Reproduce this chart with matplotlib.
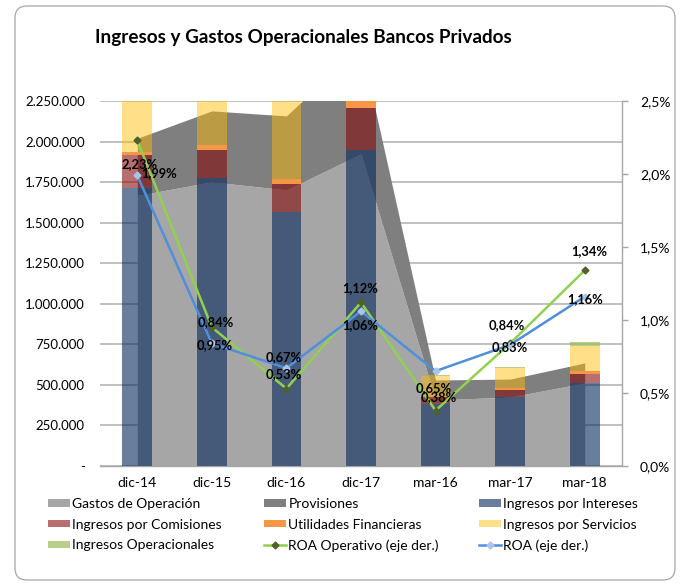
import matplotlib
matplotlib.use('Agg')
import matplotlib.pyplot as plt
import numpy as np
from matplotlib.patches import FancyBboxPatch
from matplotlib.ticker import FuncFormatter

plt.rcParams['font.family'] = ['Lato', 'DejaVu Sans']

# ---------------- data ----------------
categories = ['dic-14', 'dic-15', 'dic-16', 'dic-17', 'mar-16', 'mar-17', 'mar-18']
gastos_operacion = [1668000, 1752000, 1702000, 1924000, 407000, 425000, 512000]
provisiones = [352000, 437000, 456000, 666000, 123000, 111000, 123000]
ingresos_intereses = [1712000, 1776000, 1566000, 1948000, 385000, 425000, 512000]
ingresos_comisiones = [205000, 172000, 173000, 259000, 40000, 44000, 55000]
utilidades_financieras = [19000, 31000, 30000, 60000, 7000, 12000, 19000]
ingresos_servicios = [480000, 450000, 520000, 420000, 123000, 123000, 154000]
ingresos_operacionales = [30000, 30000, 30000, 30000, 8000, 8000, 25000]
roa_operativo = [2.23, 0.95, 0.53, 1.12, 0.38, 0.84, 1.34]
roa = [1.99, 0.84, 0.67, 1.06, 0.65, 0.83, 1.16]

left_ticks = list(range(0, 2250001, 250000))
right_ticks = [0.0, 0.5, 1.0, 1.5, 2.0, 2.5]

title = 'Ingresos y Gastos Operacionales Bancos Privados'

# ---------------- figure ----------------
W, H = 680, 585
fig = plt.figure(figsize=(W / 100, H / 100), dpi=100)

# rounded border of chart area
border = FancyBboxPatch((0.15, 0.05), 6.60, 5.74,
                        boxstyle='round,pad=0,rounding_size=0.12',
                        transform=fig.dpi_scale_trans, fill=False,
                        ec='#a6a6a6', lw=0.9)
fig.patches.append(border)

ax = fig.add_axes([100 / W, 1 - 466 / H, 522 / W, 365 / H])
x = np.arange(len(categories))

# areas
g = np.array(gastos_operacion, dtype=float)
p = np.array(provisiones, dtype=float)
ax.fill_between(x, 0, g, color='#a6a6a6', lw=0, zorder=2, label='Gastos de Operación')
ax.fill_between(x, g, g + p, color='#7f7f7f', lw=0, zorder=2, label='Provisiones')

# stacked semi-transparent bars
bar_series = [
    (ingresos_intereses, '#05285a', 0.60, 'Ingresos por Intereses'),
    (ingresos_comisiones, '#820202', 0.57, 'Ingresos por Comisiones'),
    (utilidades_financieras, '#f79646', 1.0, 'Utilidades Financieras'),
    (ingresos_servicios, '#ffbb00', 0.47, 'Ingresos por Servicios'),
    (ingresos_operacionales, '#9bbb59', 0.70, 'Ingresos Operacionales'),
]
bottom = np.zeros(len(categories))
for vals, col, a, lab in bar_series:
    ax.bar(x, vals, 0.40, bottom=bottom, color=col, alpha=a, lw=0,
           zorder=3, label=lab)
    bottom = bottom + np.array(vals, dtype=float)

ax.set_xlim(-0.5, 6.5)
ax.set_ylim(0, 2250000)
ax.set_yticks(left_ticks)
ax.yaxis.set_major_formatter(FuncFormatter(
    lambda v, pos: '-' if v == 0 else f'{int(v):,}'.replace(',', '.')))
ax.set_xticks(x)
ax.set_xticklabels(categories)
ax.tick_params(axis='y', length=0, pad=11, labelsize=9.5, labelcolor='black')
ax.tick_params(axis='x', length=0, pad=8, labelsize=10, labelcolor='black')
ax.yaxis.grid(True, color='#b5b5b5', lw=1.2)
ax.set_axisbelow(True)
for s in ['top', 'left', 'right']:
    ax.spines[s].set_visible(False)
ax.spines['bottom'].set_color('#a6a6a6')
ax.spines['bottom'].set_linewidth(1.0)

# right axis with ROA lines
ax2 = ax.twinx()
ax2.set_ylim(0, 2.5)
ax2.set_yticks(right_ticks)
ax2.yaxis.set_major_formatter(FuncFormatter(
    lambda v, pos: f'{v:.1f}%'.replace('.', ',')))
ax2.tick_params(axis='y', length=4, width=1, color='#a6a6a6', pad=9,
                labelsize=10, labelcolor='black')
for s in ['top', 'left', 'bottom']:
    ax2.spines[s].set_visible(False)
ax2.spines['right'].set_color('#a6a6a6')
ax2.spines['right'].set_linewidth(1.0)

l_op, = ax2.plot(x, roa_operativo, color='#92d050', lw=1.8, marker='D',
                 ms=3.5, mfc='#4f6228', mec='#4f6228', zorder=5,
                 label='ROA Operativo (eje der.)')
l_roa, = ax2.plot(x, roa, color='#4f8fdb', lw=1.8, marker='D',
                  ms=3.5, mfc='#a9c4e8', mec='#a9c4e8', zorder=5,
                  label='ROA (eje der.)')

green_offsets = [(2, -24), (3, -18), (-3, 15), (-1, 14), (3, 13), (-3, 18), (4, 19)]
blue_offsets = [(22, 2), (4, 21), (-3, 11), (-1, -14), (-2, -17), (0, -2), (0, -2)]
for vals, offs in [(roa_operativo, green_offsets), (roa, blue_offsets)]:
    for xi, v, (dx, dy) in zip(x, vals, offs):
        ax2.annotate(f'{v:.2f}%'.replace('.', ','), (xi, v),
                     xytext=(dx, dy), textcoords='offset pixels',
                     ha='center', va='center', fontsize=9.3,
                     fontweight='bold', color='black', zorder=6)

# title
fig.text(95 / W, 1 - 38 / H, title, fontsize=13.6, fontweight='bold',
         ha='left', va='center', color='black')

# legend: three columns
area_handles, area_labels = ax.get_legend_handles_labels()
hmap = dict(zip(area_labels, area_handles))
hmap['ROA Operativo (eje der.)'] = l_op
hmap['ROA (eje der.)'] = l_roa
columns = [
    (['Gastos de Operación', 'Ingresos por Comisiones', 'Ingresos Operacionales'], 48),
    (['Provisiones', 'Utilidades Financieras', 'ROA Operativo (eje der.)'], 264),
    (['Ingresos por Intereses', 'Ingresos por Servicios', 'ROA (eje der.)'], 479),
]
for labels, xpx in columns:
    fig.legend([hmap[l] for l in labels], labels, loc='upper left',
               bbox_to_anchor=(xpx / W, 1 - 498 / H), frameon=False,
               fontsize=10, handlelength=1.6, handleheight=0.45,
               handletextpad=0.15, labelspacing=0.62, borderpad=0,
               borderaxespad=0)

fig.savefig('out.png', dpi=100)
